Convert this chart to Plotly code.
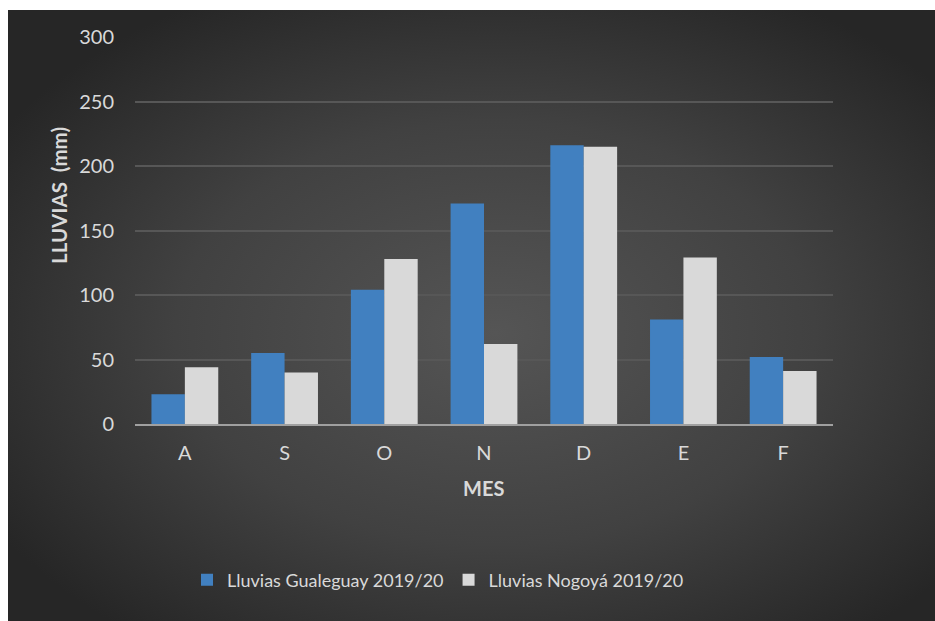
import plotly.graph_objects as go
import base64

meses = ["A", "S", "O", "N", "D", "E", "F"]
gualeguay = [23, 55, 104, 171, 216, 81, 52]
nogoya = [44, 40, 128, 62, 215, 129, 41]
serie_nombres = ["Lluvias Gualeguay 2019/20", "Lluvias Nogoyá 2019/20"]
y_ticks = [0, 50, 100, 150, 200, 250, 300]

W, H = 935, 621
PL, PR, PT, PB = 135, 833, 37, 424
ML, MR, MT, MB = PL, W - PR, PT, H - PB
PW, PH = W - ML - MR, H - MT - MB

FONT = "Lato"
TXT = "#d9d9d9"

# dark chart area (white border on top and left as in the reference)
BX, BY = 8, 10
BW, BH = W - BX + 10, H - BY + 10
svg = f"""<svg xmlns='http://www.w3.org/2000/svg' width='{BW}' height='{BH}' viewBox='0 0 {BW} {BH}' preserveAspectRatio='none'>
<defs><radialGradient id='g' cx='0.52' cy='0.52' r='0.62' gradientUnits='objectBoundingBox'>
<stop offset='0' stop-color='#555555'/><stop offset='0.55' stop-color='#414141'/><stop offset='1' stop-color='#262626'/>
</radialGradient></defs><rect width='{BW}' height='{BH}' fill='url(#g)'/></svg>"""
src = "data:image/svg+xml;base64," + base64.b64encode(svg.encode()).decode()


def fx(xpx):
    return (xpx - ML) / PW


def fy(ypx):
    return (H - MB - ypx) / PH


fig = go.Figure()
fig.add_trace(go.Bar(x=meses, y=gualeguay, name=serie_nombres[0],
                     marker=dict(color="#4180c0", line=dict(width=0))))
fig.add_trace(go.Bar(x=meses, y=nogoya, name=serie_nombres[1],
                     marker=dict(color="#d9d9d9", line=dict(width=0))))

fig.add_layout_image(dict(source=src, xref="paper", yref="paper",
                          x=fx(BX), y=fy(BY),
                          sizex=BW / PW, sizey=BH / PH,
                          xanchor="left", yanchor="top", sizing="stretch",
                          layer="below"))

fig.update_layout(
    width=W, height=H,
    margin=dict(l=ML, r=MR, t=MT, b=MB),
    paper_bgcolor="white", plot_bgcolor="rgba(0,0,0,0)",
    barmode="group", bargap=0.33, bargroupgap=0,
    font=dict(family=FONT, color=TXT, size=18),
    showlegend=True,
    legend=dict(orientation="h", x=fx(438), xanchor="center",
                y=fy(580), yanchor="middle",
                font=dict(size=18, color=TXT), bgcolor="rgba(0,0,0,0)",
                itemwidth=30, traceorder="normal"),
    xaxis=dict(showgrid=False, showline=True, linecolor="#a0a0a0", linewidth=2,
               tickfont=dict(size=20, color=TXT), ticklabelstandoff=10,
               zeroline=False, fixedrange=True),
    yaxis=dict(range=[0, 300], tickvals=y_ticks, showgrid=True,
               gridcolor="#575757", gridwidth=1.5, zeroline=False,
               showline=False, tickfont=dict(size=20, color=TXT),
               ticklabelstandoff=20, fixedrange=True),
    annotations=[
        dict(text="<b>LLUVIAS&nbsp; (mm)</b>", xref="paper", yref="paper",
             x=fx(59), y=fy(196), textangle=-90,
             showarrow=False, font=dict(size=20.5, color=TXT),
             xanchor="center", yanchor="middle"),
        dict(text="<b>MES</b>", xref="paper", yref="paper",
             x=fx(483), y=fy(488), showarrow=False,
             font=dict(size=20, color=TXT), xanchor="center", yanchor="middle"),
    ],
)

fig.write_html(
    "out.html",
    config={"displayModeBar": False},
    post_script="document.body.style.margin='0';document.body.style.overflow='hidden';",
)
